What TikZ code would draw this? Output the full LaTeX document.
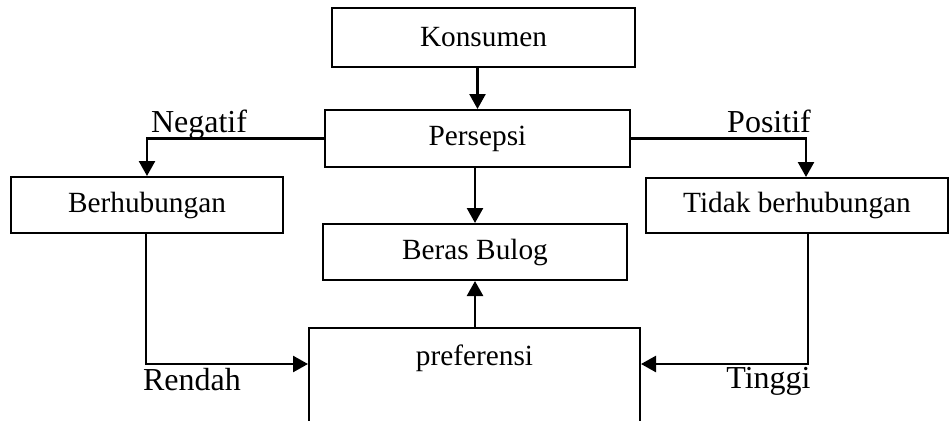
\documentclass[tikz,border=0pt]{standalone}
\usepackage{fontspec}
\setmainfont{Liberation Serif}
\usetikzlibrary{arrows.meta}
\begin{document}
\begin{tikzpicture}[x=1pt,y=-1pt,
  boxnode/.style={draw,line width=2pt,inner sep=0pt,font=\fontsize{29.3}{34}\selectfont},
  lbl/.style={anchor=base,inner sep=0pt,font=\fontsize{32}{38}\selectfont},
  conn/.style={line width=2.5pt},
  arr/.style={conn,-{Triangle[length=15pt,width=16pt]}}]
\useasboundingbox (0,0) rectangle (949,420);
\clip (0,0) rectangle (949,420);
\node[boxnode,minimum width=303pt,minimum height=59pt] (kons) at (483.5,37.5) {Konsumen};
\node[boxnode,minimum width=305pt,minimum height=57pt] (pers) at (477.5,138.5) {Persepsi};
\node[boxnode,minimum width=272pt,minimum height=56pt] (berh) at (147,205) {Berhubungan};
\node[boxnode,minimum width=302pt,minimum height=55pt] (tidak) at (797,205.5) {Tidak berhubungan};
\node[boxnode,minimum width=304pt,minimum height=56pt] (beras) at (475,252) {Beras Bulog};
\node[boxnode,minimum width=331pt,minimum height=120pt,anchor=north] (pref) at (474.5,327) {};
\node[boxnode,draw=none,anchor=base] (preft) at (474.5,365) {preferensi};
\draw[arr] (pers.north |- kons.south) -- (pers.north);
\draw[arr] (beras.north |- pers.south) -- (beras.north);
\draw[arr] (pers.west) -| (berh.north);
\draw[arr] (pers.east) -| ([xshift=9pt]tidak.north);
\draw[arr] (beras.south |- pref.north) -- (beras.south);
\draw[arr] ([xshift=-1pt]berh.south) |- ([yshift=-37pt]pref.north west);
\draw[arr] ([xshift=11pt]tidak.south) |- ([yshift=-37pt]pref.north east);
\node[lbl] (neg) at (199,132) {Negatif};
\node[lbl] (pos) at (769,132) {Positif};
\node[lbl] (ren) at (192,390) {Rendah};
\node[lbl] (ting) at (768.5,388) {Tinggi};
\end{tikzpicture}
\end{document}
